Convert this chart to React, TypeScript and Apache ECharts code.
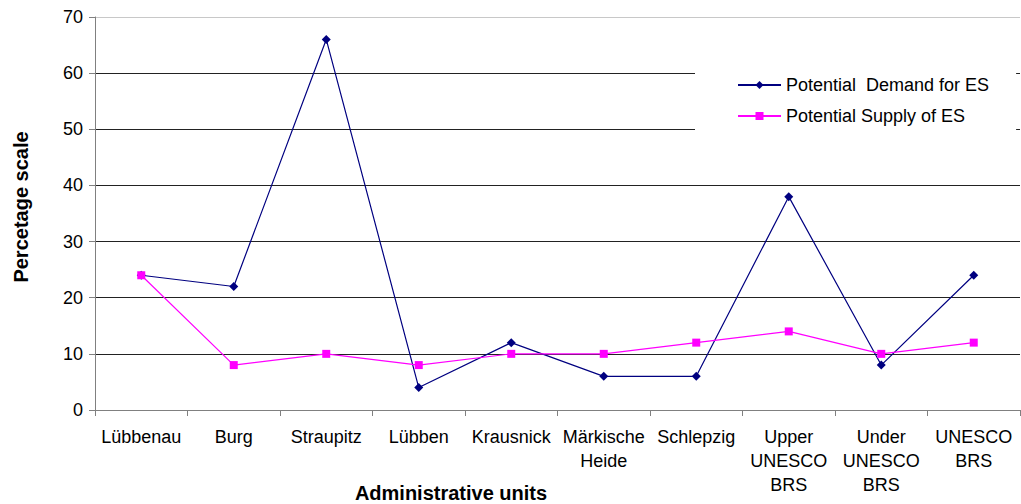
import React, { useEffect, useRef } from "react";
import * as echarts from "echarts";

const categories = [
  "Lübbenau",
  "Burg",
  "Straupitz",
  "Lübben",
  "Krausnick",
  "Märkische\nHeide",
  "Schlepzig",
  "Upper\nUNESCO\nBRS",
  "Under\nUNESCO\nBRS",
  "UNESCO\nBRS",
];
const demandValues = [24, 22, 66, 4, 12, 6, 6, 38, 8, 24];
const supplyValues = [24, 8, 10, 8, 10, 10, 12, 14, 10, 12];
const demandName = "Potential  Demand for ES";
const supplyName = "Potential Supply of ES";
const yTitle = "Percetage scale";
const xTitle = "Administrative units";

const FONT = "'Liberation Sans', Arial, Helvetica, sans-serif";

export default function App() {
  const ref = useRef<HTMLDivElement>(null);
  useEffect(() => {
    document.body.style.margin = "0";
    const chart = echarts.init(ref.current!, null, { renderer: "svg" });
    chart.setOption({
      animation: false,
      backgroundColor: "#fff",
      textStyle: { fontFamily: FONT },
      grid: { left: 95, right: 1, top: 17, bottom: 94, containLabel: false },
      legend: {
        orient: "vertical",
        left: 695,
        top: 64,
        padding: [12, 27, 12, 42],
        backgroundColor: "#fff",
        itemWidth: 43,
        itemHeight: 10,
        itemGap: 13,
        textStyle: { fontFamily: FONT, fontSize: 18, color: "#000" },
        data: [demandName, supplyName],
      },
      xAxis: {
        type: "category",
        data: categories,
        boundaryGap: true,
        axisLine: { lineStyle: { color: "#808080", width: 1 } },
        axisTick: { show: true, length: 6, alignWithLabel: false, lineStyle: { color: "#808080" } },
        axisLabel: {
          interval: 0,
          margin: 15,
          fontSize: 18,
          lineHeight: 24,
          color: "#000",
          fontFamily: FONT,
        },
        splitLine: { show: false },
      },
      yAxis: {
        type: "value",
        min: 0,
        max: 70,
        interval: 10,
        axisLine: { show: true, lineStyle: { color: "#808080", width: 1 } },
        axisTick: { show: true, length: 6, lineStyle: { color: "#808080" } },
        axisLabel: { margin: 12, fontSize: 18, color: "#000", fontFamily: FONT },
        splitLine: {
          show: true,
          lineStyle: {
            color: ["#222", "#222", "#222", "#222", "#222", "#222", "#222", "#c8c8c8"],
            width: 1,
          },
        },
      },
      graphic: [
        {
          type: "text",
          x: 21,
          y: 207,
          rotation: Math.PI / 2,
          style: {
            text: yTitle,
            fontFamily: FONT,
            fontSize: 20,
            fontWeight: "bold",
            fill: "#000",
            textAlign: "center",
            textVerticalAlign: "middle",
          },
        },
        {
          type: "text",
          x: 451,
          y: 493,
          style: {
            text: xTitle,
            fontFamily: FONT,
            fontSize: 20,
            fontWeight: "bold",
            fill: "#000",
            textAlign: "center",
            textVerticalAlign: "middle",
          },
        },
      ],
      series: [
        {
          name: demandName,
          type: "line",
          data: demandValues,
          symbol: "diamond",
          symbolSize: 9,
          color: "#000080",
          lineStyle: { color: "#000080", width: 1.2 },
          itemStyle: { color: "#000080" },
          z: 3,
        },
        {
          name: supplyName,
          type: "line",
          data: supplyValues,
          symbol: "rect",
          symbolSize: 8,
          color: "#ff00ff",
          lineStyle: { color: "#ff00ff", width: 1.2 },
          itemStyle: { color: "#ff00ff" },
          z: 4,
        },
      ],
    });
    return () => chart.dispose();
  }, []);
  return <div ref={ref} style={{ width: 1021, height: 504 }} />;
}
